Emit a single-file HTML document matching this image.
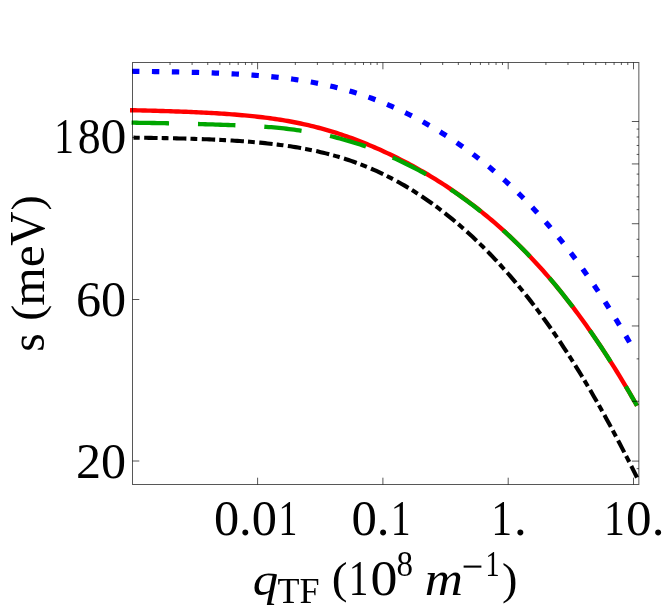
<!DOCTYPE html>
<html><head><meta charset="utf-8"><title>plot</title>
<style>
html,body{margin:0;padding:0;background:#fff;}
body{width:664px;height:609px;overflow:hidden;}
svg{display:block;}
text{font-family:"Liberation Serif",serif;fill:#000;}
</style></head><body>
<svg width="664" height="609" viewBox="0 0 664 609">
<rect width="664" height="609" fill="#fff"/>
<g fill="none" stroke-linecap="butt" stroke-linejoin="round">
<path d="M132.00 71.27 L134.52 71.30 L137.05 71.33 L139.57 71.36 L142.09 71.38 L144.61 71.42 L147.14 71.45 L149.66 71.48 L152.18 71.52 L154.70 71.55 L157.23 71.59 L159.75 71.63 L162.27 71.67 L164.79 71.71 L167.32 71.76 L169.84 71.80 L172.36 71.85 L174.88 71.90 L177.41 71.95 L179.93 72.01 L182.45 72.06 L184.97 72.12 L187.50 72.18 L190.02 72.25 L192.54 72.31 L195.07 72.38 L197.59 72.45 L200.11 72.53 L202.63 72.61 L205.16 72.69 L207.68 72.78 L210.20 72.86 L212.72 72.96 L215.25 73.05 L217.77 73.15 L220.29 73.26 L222.81 73.37 L225.34 73.48 L227.86 73.60 L230.38 73.72 L232.90 73.85 L235.43 73.99 L237.95 74.13 L240.47 74.27 L242.99 74.43 L245.52 74.59 L248.04 74.75 L250.56 74.92 L253.09 75.10 L255.61 75.29 L258.13 75.49 L260.65 75.69 L263.18 75.90 L265.70 76.12 L268.22 76.35 L270.74 76.59 L273.27 76.84 L275.79 77.10 L278.31 77.38 L280.83 77.66 L283.36 77.95 L285.88 78.26 L288.40 78.57 L290.92 78.90 L293.45 79.24 L295.97 79.60 L298.49 79.97 L301.02 80.35 L303.54 80.75 L306.06 81.17 L308.58 81.59 L311.11 82.04 L313.63 82.50 L316.15 82.98 L318.67 83.47 L321.20 83.98 L323.72 84.51 L326.24 85.06 L328.76 85.62 L331.29 86.20 L333.81 86.81 L336.33 87.43 L338.85 88.07 L341.38 88.73 L343.90 89.41 L346.42 90.12 L348.94 90.84 L351.47 91.58 L353.99 92.35 L356.51 93.13 L359.04 93.94 L361.56 94.77 L364.08 95.62 L366.60 96.49 L369.13 97.39 L371.65 98.30 L374.17 99.24 L376.69 100.20 L379.22 101.18 L381.74 102.19 L384.26 103.22 L386.78 104.27 L389.31 105.34 L391.83 106.44 L394.35 107.55 L396.87 108.69 L399.40 109.86 L401.92 111.04 L404.44 112.25 L406.96 113.48 L409.49 114.74 L412.01 116.02 L414.53 117.32 L417.06 118.64 L419.58 119.99 L422.10 121.36 L424.62 122.75 L427.15 124.17 L429.67 125.61 L432.19 127.07 L434.71 128.56 L437.24 130.07 L439.76 131.61 L442.28 133.17 L444.80 134.75 L447.33 136.36 L449.85 138.00 L452.37 139.66 L454.89 141.34 L457.42 143.06 L459.94 144.79 L462.46 146.56 L464.98 148.35 L467.51 150.17 L470.03 152.01 L472.55 153.88 L475.08 155.79 L477.60 157.71 L480.12 159.67 L482.64 161.66 L485.17 163.68 L487.69 165.72 L490.21 167.80 L492.73 169.91 L495.26 172.05 L497.78 174.22 L500.30 176.42 L502.82 178.66 L505.35 180.93 L507.87 183.23 L510.39 185.56 L512.91 187.94 L515.44 190.34 L517.96 192.78 L520.48 195.26 L523.01 197.77 L525.53 200.32 L528.05 202.91 L530.57 205.53 L533.10 208.19 L535.62 210.90 L538.14 213.64 L540.66 216.42 L543.19 219.24 L545.71 222.10 L548.23 225.00 L550.75 227.94 L553.28 230.92 L555.80 233.95 L558.32 237.02 L560.84 240.13 L563.37 243.28 L565.89 246.48 L568.41 249.72 L570.93 253.01 L573.46 256.34 L575.98 259.71 L578.50 263.13 L581.03 266.60 L583.55 270.11 L586.07 273.66 L588.59 277.26 L591.12 280.91 L593.64 284.61 L596.16 288.35 L598.68 292.13 L601.21 295.97 L603.73 299.85 L606.25 303.77 L608.77 307.74 L611.30 311.76 L613.82 315.83 L616.34 319.94 L618.86 324.10 L621.39 328.31 L623.91 332.56 L626.43 336.86 L628.95 341.20 L631.48 345.59 L634.00 350.03" stroke="#0000ff" stroke-width="5.2" stroke-dasharray="7.4 12.52"/>
<path d="M130.00 110.19 L132.55 110.24 L135.10 110.30 L137.64 110.35 L140.19 110.41 L142.74 110.47 L145.29 110.53 L147.83 110.59 L150.38 110.66 L152.93 110.73 L155.48 110.79 L158.03 110.87 L160.57 110.94 L163.12 111.01 L165.67 111.09 L168.22 111.17 L170.76 111.25 L173.31 111.34 L175.86 111.43 L178.41 111.52 L180.95 111.61 L183.50 111.71 L186.05 111.81 L188.60 111.91 L191.15 112.02 L193.69 112.13 L196.24 112.25 L198.79 112.37 L201.34 112.49 L203.88 112.61 L206.43 112.75 L208.98 112.88 L211.53 113.02 L214.08 113.17 L216.62 113.32 L219.17 113.48 L221.72 113.64 L224.27 113.81 L226.81 113.98 L229.36 114.17 L231.91 114.36 L234.46 114.55 L237.01 114.76 L239.55 114.97 L242.10 115.19 L244.65 115.42 L247.20 115.65 L249.74 115.90 L252.29 116.16 L254.84 116.43 L257.39 116.70 L259.93 116.99 L262.48 117.29 L265.03 117.61 L267.58 117.93 L270.13 118.27 L272.67 118.62 L275.22 118.99 L277.77 119.37 L280.32 119.76 L282.86 120.17 L285.41 120.60 L287.96 121.04 L290.51 121.50 L293.06 121.98 L295.60 122.47 L298.15 122.98 L300.70 123.51 L303.25 124.06 L305.79 124.62 L308.34 125.21 L310.89 125.81 L313.44 126.44 L315.98 127.08 L318.53 127.75 L321.08 128.43 L323.63 129.13 L326.18 129.86 L328.72 130.60 L331.27 131.36 L333.82 132.15 L336.37 132.95 L338.91 133.77 L341.46 134.62 L344.01 135.48 L346.56 136.37 L349.11 137.27 L351.65 138.19 L354.20 139.13 L356.75 140.10 L359.30 141.08 L361.84 142.08 L364.39 143.10 L366.94 144.13 L369.49 145.19 L372.04 146.27 L374.58 147.36 L377.13 148.48 L379.68 149.61 L382.23 150.76 L384.77 151.93 L387.32 153.12 L389.87 154.33 L392.42 155.55 L394.96 156.80 L397.51 158.06 L400.06 159.35 L402.61 160.65 L405.16 161.97 L407.70 163.31 L410.25 164.67 L412.80 166.05 L415.35 167.46 L417.89 168.88 L420.44 170.32 L422.99 171.78 L425.54 173.27 L428.09 174.77 L430.63 176.30 L433.18 177.85 L435.73 179.42 L438.28 181.01 L440.82 182.63 L443.37 184.27 L445.92 185.93 L448.47 187.61 L451.02 189.32 L453.56 191.06 L456.11 192.82 L458.66 194.60 L461.21 196.41 L463.75 198.25 L466.30 200.11 L468.85 202.00 L471.40 203.92 L473.94 205.86 L476.49 207.83 L479.04 209.83 L481.59 211.86 L484.14 213.92 L486.68 216.01 L489.23 218.12 L491.78 220.27 L494.33 222.45 L496.87 224.66 L499.42 226.91 L501.97 229.18 L504.52 231.49 L507.07 233.83 L509.61 236.20 L512.16 238.61 L514.71 241.05 L517.26 243.53 L519.80 246.05 L522.35 248.59 L524.90 251.18 L527.45 253.80 L529.99 256.46 L532.54 259.15 L535.09 261.89 L537.64 264.66 L540.19 267.47 L542.73 270.32 L545.28 273.21 L547.83 276.13 L550.38 279.10 L552.92 282.11 L555.47 285.16 L558.02 288.25 L560.57 291.38 L563.12 294.56 L565.66 297.77 L568.21 301.03 L570.76 304.33 L573.31 307.67 L575.85 311.06 L578.40 314.49 L580.95 317.96 L583.50 321.48 L586.05 325.04 L588.59 328.65 L591.14 332.30 L593.69 335.99 L596.24 339.73 L598.78 343.51 L601.33 347.34 L603.88 351.22 L606.43 355.14 L608.97 359.10 L611.52 363.11 L614.07 367.17 L616.62 371.27 L619.17 375.42 L621.71 379.61 L624.26 383.85 L626.81 388.13 L629.36 392.46 L631.90 396.84 L634.45 401.26 L637.00 405.72" stroke="#ff0000" stroke-width="4.4"/>
<path d="M131.60 122.68 L134.14 122.72 L136.68 122.75 L139.22 122.79 L141.76 122.83 L144.30 122.86 L146.84 122.90 L149.38 122.94 L151.92 122.98 L154.46 123.02 L157.00 123.07 L159.54 123.11 L162.08 123.16 L164.62 123.21 L167.16 123.26 L169.70 123.32 L172.24 123.37 L174.77 123.43 L177.31 123.48 L179.85 123.54 L182.39 123.60 L184.93 123.67 L187.47 123.73 L190.01 123.80 L192.55 123.86 L195.09 123.93 L197.63 124.00 L200.17 124.07 L202.71 124.15 L205.25 124.23 L207.79 124.30 L210.33 124.38 L212.87 124.47 L215.41 124.55 L217.95 124.64 L220.49 124.73 L223.03 124.82 L225.57 124.90 L228.11 124.99 L230.65 125.09 L233.19 125.18 L235.73 125.28 L238.27 125.38 L240.81 125.49 L243.35 125.60 L245.89 125.72 L248.43 125.84 L250.97 125.98 L253.51 126.11 L256.05 126.25 L258.58 126.40 L261.12 126.54 L263.66 126.70 L266.20 126.87 L268.74 127.04 L271.28 127.23 L273.82 127.44 L276.36 127.66 L278.90 127.90 L281.44 128.17 L283.98 128.45 L286.52 128.75 L289.06 129.07 L291.60 129.40 L294.14 129.74 L296.68 130.08 L299.22 130.43 L301.76 130.80 L304.30 131.17 L306.84 131.55 L309.38 131.95 L311.92 132.37 L314.46 132.81 L317.00 133.26 L319.54 133.74 L322.08 134.24 L324.62 134.77 L327.16 135.32 L329.70 135.91 L332.24 136.52 L334.78 137.16 L337.32 137.83 L339.86 138.52 L342.39 139.23 L344.93 139.95 L347.47 140.69 L350.01 141.43 L352.55 142.19 L355.09 142.96 L357.63 143.74 L360.17 144.55 L362.71 145.40 L365.25 146.28 L367.79 147.20 L370.33 148.15 L372.87 149.12 L375.41 150.12 L377.95 151.15 L380.49 152.19 L383.03 153.26 L385.57 154.35 L388.11 155.45 L390.65 156.58 L393.19 157.72 L395.73 158.88 L398.27 160.05 L400.81 161.25 L403.35 162.46 L405.89 163.69 L408.43 164.95 L410.97 166.22 L413.51 167.52 L416.05 168.84 L418.59 170.19 L421.13 171.57 L423.67 172.97 L426.21 174.41 L428.74 175.86 L431.28 177.35 L433.82 178.86 L436.36 180.39 L438.90 181.94 L441.44 183.53 L443.98 185.14 L446.52 186.77 L449.06 188.43 L451.60 190.12 L454.14 191.83 L456.68 193.57 L459.22 195.33 L461.76 197.12 L464.30 198.94 L466.84 200.79 L469.38 202.66 L471.92 204.56 L474.46 206.49 L477.00 208.45 L479.54 210.43 L482.08 212.45 L484.62 214.49 L487.16 216.57 L489.70 218.67 L492.24 220.81 L494.78 222.98 L497.32 225.17 L499.86 227.40 L502.40 229.67 L504.94 231.96 L507.48 234.29 L510.02 236.66 L512.55 239.06 L515.09 241.49 L517.63 243.96 L520.17 246.46 L522.71 249.00 L525.25 251.58 L527.79 254.19 L530.33 256.84 L532.87 259.53 L535.41 262.26 L537.95 265.02 L540.49 267.82 L543.03 270.66 L545.57 273.55 L548.11 276.47 L550.65 279.43 L553.19 282.43 L555.73 285.47 L558.27 288.56 L560.81 291.68 L563.35 294.85 L565.89 298.06 L568.43 301.31 L570.97 304.60 L573.51 307.94 L576.05 311.32 L578.59 314.74 L581.13 318.20 L583.67 321.71 L586.21 325.27 L588.75 328.86 L591.29 332.50 L593.83 336.19 L596.36 339.92 L598.90 343.69 L601.44 347.51 L603.98 351.38 L606.52 355.29 L609.06 359.24 L611.60 363.24 L614.14 367.28 L616.68 371.37 L619.22 375.51 L621.76 379.69 L624.30 383.91 L626.84 388.19 L629.38 392.50 L631.92 396.86 L634.46 401.27 L637.00 405.72" stroke="#00a600" stroke-width="4.3" stroke-dasharray="37.45 28.95" stroke-dashoffset="0"/>
<path d="M133.50 137.65 L136.03 137.68 L138.56 137.72 L141.09 137.75 L143.62 137.78 L146.15 137.82 L148.68 137.85 L151.21 137.89 L153.74 137.93 L156.27 137.97 L158.80 138.02 L161.33 138.06 L163.86 138.11 L166.39 138.16 L168.92 138.21 L171.45 138.26 L173.98 138.32 L176.51 138.38 L179.04 138.44 L181.57 138.50 L184.10 138.57 L186.63 138.64 L189.16 138.71 L191.69 138.79 L194.22 138.86 L196.75 138.95 L199.28 139.03 L201.81 139.12 L204.34 139.21 L206.87 139.31 L209.40 139.41 L211.93 139.52 L214.46 139.63 L216.99 139.75 L219.53 139.87 L222.06 139.99 L224.59 140.12 L227.12 140.26 L229.65 140.40 L232.18 140.55 L234.71 140.70 L237.24 140.87 L239.77 141.03 L242.30 141.21 L244.83 141.39 L247.36 141.58 L249.89 141.78 L252.42 141.99 L254.95 142.20 L257.48 142.43 L260.01 142.66 L262.54 142.91 L265.07 143.16 L267.60 143.43 L270.13 143.70 L272.66 143.99 L275.19 144.29 L277.72 144.60 L280.25 144.92 L282.78 145.25 L285.31 145.60 L287.84 145.97 L290.37 146.34 L292.90 146.74 L295.43 147.14 L297.96 147.56 L300.49 148.00 L303.02 148.46 L305.55 148.93 L308.08 149.42 L310.61 149.93 L313.14 150.45 L315.67 151.00 L318.20 151.56 L320.73 152.15 L323.26 152.75 L325.79 153.38 L328.32 154.03 L330.85 154.70 L333.38 155.39 L335.91 156.10 L338.44 156.84 L340.97 157.60 L343.50 158.39 L346.03 159.20 L348.56 160.04 L351.09 160.90 L353.62 161.79 L356.15 162.70 L358.68 163.64 L361.21 164.60 L363.74 165.60 L366.27 166.62 L368.80 167.67 L371.33 168.74 L373.86 169.85 L376.39 170.98 L378.92 172.14 L381.45 173.34 L383.98 174.56 L386.52 175.81 L389.05 177.09 L391.58 178.40 L394.11 179.74 L396.64 181.11 L399.17 182.51 L401.70 183.94 L404.23 185.40 L406.76 186.89 L409.29 188.41 L411.82 189.96 L414.35 191.55 L416.88 193.16 L419.41 194.81 L421.94 196.49 L424.47 198.20 L427.00 199.94 L429.53 201.71 L432.06 203.52 L434.59 205.35 L437.12 207.22 L439.65 209.12 L442.18 211.06 L444.71 213.02 L447.24 215.02 L449.77 217.05 L452.30 219.12 L454.83 221.22 L457.36 223.35 L459.89 225.52 L462.42 227.72 L464.95 229.95 L467.48 232.22 L470.01 234.53 L472.54 236.87 L475.07 239.24 L477.60 241.65 L480.13 244.10 L482.66 246.58 L485.19 249.10 L487.72 251.66 L490.25 254.25 L492.78 256.88 L495.31 259.55 L497.84 262.26 L500.37 265.01 L502.90 267.80 L505.43 270.62 L507.96 273.49 L510.49 276.39 L513.02 279.34 L515.55 282.33 L518.08 285.36 L520.61 288.43 L523.14 291.54 L525.67 294.69 L528.20 297.89 L530.73 301.13 L533.26 304.41 L535.79 307.74 L538.32 311.11 L540.85 314.53 L543.38 317.98 L545.91 321.49 L548.44 325.03 L550.97 328.63 L553.51 332.26 L556.04 335.95 L558.57 339.68 L561.10 343.45 L563.63 347.27 L566.16 351.13 L568.69 355.04 L571.22 359.00 L573.75 363.00 L576.28 367.05 L578.81 371.14 L581.34 375.28 L583.87 379.47 L586.40 383.70 L588.93 387.97 L591.46 392.29 L593.99 396.66 L596.52 401.07 L599.05 405.53 L601.58 410.03 L604.11 414.57 L606.64 419.16 L609.17 423.79 L611.70 428.46 L614.23 433.18 L616.76 437.94 L619.29 442.74 L621.82 447.59 L624.35 452.47 L626.88 457.40 L629.41 462.36 L631.94 467.37 L634.47 472.42 L637.00 477.50" stroke="#000000" stroke-width="4.1" stroke-dasharray="6.8 4.5 13.4 4.1" stroke-dashoffset="0.6"/>
</g>
<g stroke="#000" stroke-opacity="0.66" stroke-width="1" fill="none">
<rect x="132.5" y="62.5" width="506.35" height="422.0"/>
<line x1="170.02" y1="62.50" x2="170.02" y2="65.00"/>
<line x1="192.08" y1="62.50" x2="192.08" y2="65.00"/>
<line x1="207.74" y1="62.50" x2="207.74" y2="65.00"/>
<line x1="219.88" y1="62.50" x2="219.88" y2="65.00"/>
<line x1="229.80" y1="62.50" x2="229.80" y2="65.00"/>
<line x1="238.19" y1="62.50" x2="238.19" y2="65.00"/>
<line x1="245.46" y1="62.50" x2="245.46" y2="65.00"/>
<line x1="251.87" y1="62.50" x2="251.87" y2="65.00"/>
<line x1="257.60" y1="62.50" x2="257.60" y2="69.30"/>
<line x1="257.60" y1="484.50" x2="257.60" y2="477.70"/>
<line x1="295.32" y1="62.50" x2="295.32" y2="65.00"/>
<line x1="317.38" y1="62.50" x2="317.38" y2="65.00"/>
<line x1="333.04" y1="62.50" x2="333.04" y2="65.00"/>
<line x1="345.18" y1="62.50" x2="345.18" y2="65.00"/>
<line x1="355.10" y1="62.50" x2="355.10" y2="65.00"/>
<line x1="363.49" y1="62.50" x2="363.49" y2="65.00"/>
<line x1="370.76" y1="62.50" x2="370.76" y2="65.00"/>
<line x1="377.17" y1="62.50" x2="377.17" y2="65.00"/>
<line x1="382.90" y1="62.50" x2="382.90" y2="69.30"/>
<line x1="382.90" y1="484.50" x2="382.90" y2="477.70"/>
<line x1="420.62" y1="62.50" x2="420.62" y2="65.00"/>
<line x1="442.68" y1="62.50" x2="442.68" y2="65.00"/>
<line x1="458.34" y1="62.50" x2="458.34" y2="65.00"/>
<line x1="470.48" y1="62.50" x2="470.48" y2="65.00"/>
<line x1="480.40" y1="62.50" x2="480.40" y2="65.00"/>
<line x1="488.79" y1="62.50" x2="488.79" y2="65.00"/>
<line x1="496.06" y1="62.50" x2="496.06" y2="65.00"/>
<line x1="502.47" y1="62.50" x2="502.47" y2="65.00"/>
<line x1="508.20" y1="62.50" x2="508.20" y2="69.30"/>
<line x1="508.20" y1="484.50" x2="508.20" y2="477.70"/>
<line x1="545.92" y1="62.50" x2="545.92" y2="65.00"/>
<line x1="567.98" y1="62.50" x2="567.98" y2="65.00"/>
<line x1="583.64" y1="62.50" x2="583.64" y2="65.00"/>
<line x1="595.78" y1="62.50" x2="595.78" y2="65.00"/>
<line x1="605.70" y1="62.50" x2="605.70" y2="65.00"/>
<line x1="614.09" y1="62.50" x2="614.09" y2="65.00"/>
<line x1="621.36" y1="62.50" x2="621.36" y2="65.00"/>
<line x1="627.77" y1="62.50" x2="627.77" y2="65.00"/>
<line x1="633.50" y1="62.50" x2="633.50" y2="69.30"/>
<line x1="633.50" y1="484.50" x2="633.50" y2="477.70"/>
<line x1="638.85" y1="476.64" x2="636.65" y2="476.64"/>
<line x1="638.85" y1="468.67" x2="636.65" y2="468.67"/>
<line x1="638.85" y1="461.10" x2="631.85" y2="461.10"/>
<line x1="638.85" y1="401.30" x2="631.85" y2="401.30"/>
<line x1="638.85" y1="358.87" x2="636.65" y2="358.87"/>
<line x1="638.85" y1="325.96" x2="631.85" y2="325.96"/>
<line x1="638.85" y1="299.07" x2="636.65" y2="299.07"/>
<line x1="638.85" y1="276.33" x2="631.85" y2="276.33"/>
<line x1="638.85" y1="256.64" x2="636.65" y2="256.64"/>
<line x1="638.85" y1="239.27" x2="636.65" y2="239.27"/>
<line x1="638.85" y1="223.73" x2="631.85" y2="223.73"/>
<line x1="638.85" y1="209.67" x2="636.65" y2="209.67"/>
<line x1="638.85" y1="196.84" x2="636.65" y2="196.84"/>
<line x1="638.85" y1="185.03" x2="636.65" y2="185.03"/>
<line x1="638.85" y1="174.10" x2="636.65" y2="174.10"/>
<line x1="638.85" y1="163.93" x2="631.85" y2="163.93"/>
<line x1="638.85" y1="154.41" x2="636.65" y2="154.41"/>
<line x1="638.85" y1="145.47" x2="636.65" y2="145.47"/>
<line x1="638.85" y1="137.04" x2="636.65" y2="137.04"/>
<line x1="638.85" y1="129.07" x2="636.65" y2="129.07"/>
<line x1="638.85" y1="121.50" x2="631.85" y2="121.50"/>
<line x1="132.50" y1="461.00" x2="139.30" y2="461.00"/>
<line x1="132.50" y1="299.50" x2="139.30" y2="299.50"/>
<line x1="132.50" y1="137.50" x2="139.30" y2="137.50"/>
</g>
<g opacity="0.999">
<text transform="translate(54.35,153.40) scale(0.7887,1.0000)" font-size="50">1</text>
<text transform="translate(77.78,153.40) scale(0.9176,1.0000)" font-size="50">8</text>
<text transform="translate(100.46,153.40) scale(1.0353,1.0000)" font-size="50">0</text>
<text transform="translate(75.97,315.70) scale(1.0043,1.0000)" font-size="50">60</text>
<text transform="translate(76.04,477.70) scale(1.0027,1.0000)" font-size="50">20</text>
<text transform="translate(213.91,535.00) scale(1.0077,1.0000)" font-size="50">0.0</text>
<text transform="translate(278.50,535.00) scale(0.7546,1.0000)" font-size="50">1</text>
<text transform="translate(351.39,535.00) scale(1.0162,1.0000)" font-size="50">0.</text>
<text transform="translate(390.72,535.00) scale(0.7943,1.0000)" font-size="50">1</text>
<text transform="translate(491.15,535.00) scale(0.8340,1.0000)" font-size="50">1</text>
<text transform="translate(514.10,535.00) scale(1.0167,1.0000)" font-size="50">.</text>
<text transform="translate(604.05,535.00) scale(0.8340,1.0000)" font-size="50">1</text>
<text transform="translate(626.08,535.00) scale(1.0224,1.0000)" font-size="50">0.</text>
<text transform="translate(252.67,595.20) scale(1.0892,1.0000)" font-size="46.75" font-style="italic">q</text>
<text transform="translate(277.56,603.00) scale(1.0308,1.0000)" font-size="35">TF</text>
<text transform="translate(331.67,593.40) scale(1.0637,1.0000)" font-size="44.4">(</text>
<text transform="translate(348.67,594.90) scale(0.7830,1.0000)" font-size="50">1</text>
<text transform="translate(370.38,595.10) scale(1.0776,1.0000)" font-size="50">0</text>
<text transform="translate(396.44,575.85) scale(0.9180,1.0000)" font-size="36">8</text>
<text transform="translate(424.85,595.30) scale(1.1115,1.0000)" font-size="47.6" font-style="italic">m</text>
<rect x="463.6" y="565.55" width="17.8" height="2.1" fill="#000"/>
<text transform="translate(485.40,576.00) scale(0.7686,1.0000)" font-size="36.6">1</text>
<text transform="translate(501.94,593.50) scale(1.0374,1.0000)" font-size="44.8">)</text>
<text transform="translate(44.00,351.69) rotate(-90) scale(0.9472,0.9600)" font-size="50">s</text>
<text transform="translate(42.20,320.90) rotate(-90) scale(1.0989,1.0000)" font-size="44.7">(</text>
<text transform="translate(44.00,305.69) rotate(-90) scale(0.9901,0.9600)" font-size="50">me</text>
<text transform="translate(44.00,245.87) rotate(-90) scale(0.9486,1.0000)" font-size="50">V</text>
<text transform="translate(42.20,210.61) rotate(-90) scale(1.0261,1.0000)" font-size="44.7">)</text>
</g>
</svg>
</body></html>
